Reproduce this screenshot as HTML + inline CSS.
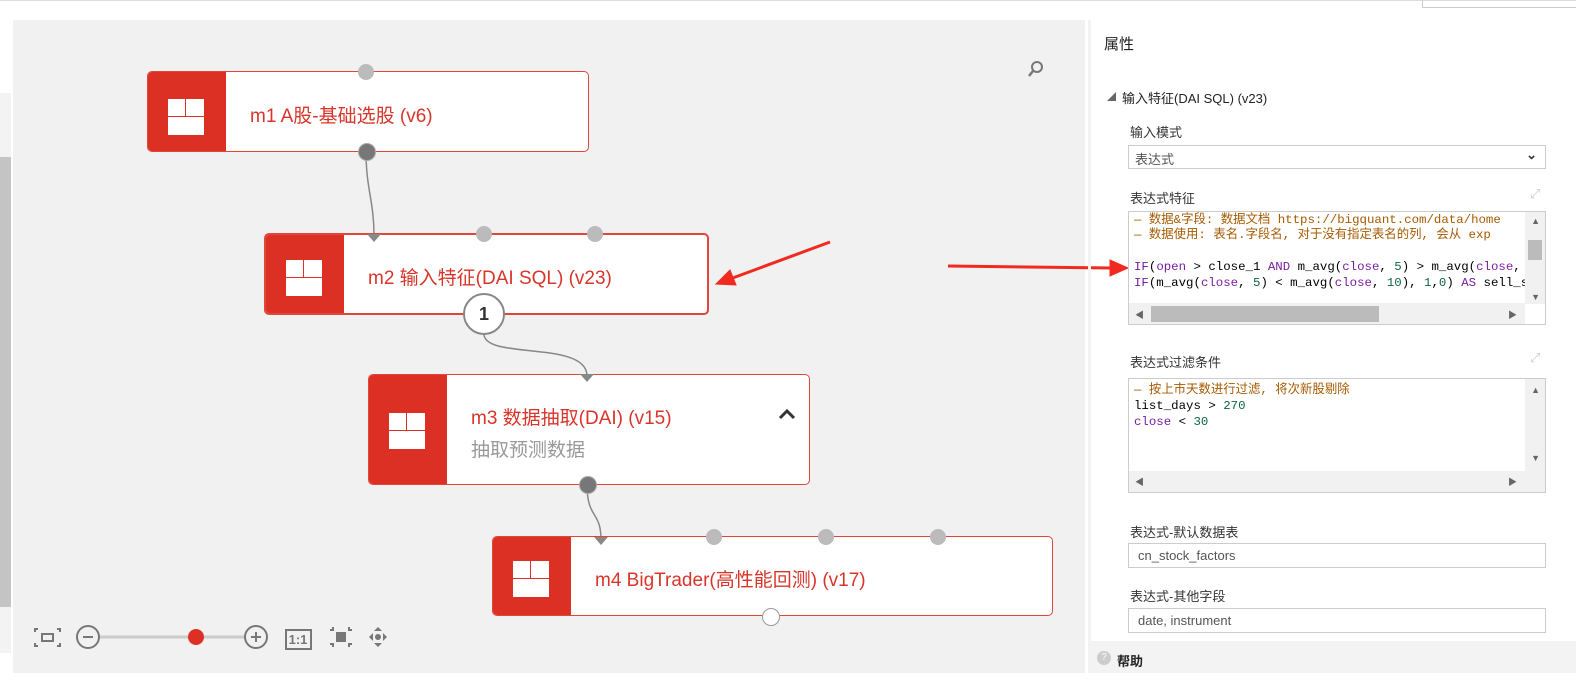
<!DOCTYPE html>
<html style="overflow:hidden"><head><meta charset="utf-8"><style>
html,body{margin:0;padding:0}
body{width:1576px;height:685px;position:relative;overflow:hidden;background:#fff;font-family:"Liberation Sans","Noto Sans CJK SC",sans-serif}
.a{position:absolute}
.canvas{left:13px;top:20px;width:1072px;height:653px;background:#f1f1f1}
.node{position:absolute;background:#fff;border:1px solid #e0463a;border-radius:5px;overflow:hidden;box-sizing:border-box}
.node .red{position:absolute;left:0;top:0;bottom:0;width:78px;background:#dd3024}
.icon{position:absolute;left:20px;width:36px;height:36px;background:#fff}
.icon:before{content:"";position:absolute;left:0;right:0;top:17px;height:1px;background:#dd3024}
.icon:after{content:"";position:absolute;left:17px;width:1px;top:0;height:17px;background:#dd3024}
.title{position:absolute;color:#d8352a;font-size:19px;white-space:nowrap}
.port{position:absolute;width:16px;height:16px;border-radius:50%;background:#bbb;margin:-8px 0 0 -8px}
.lbl{position:absolute;font-size:13px;color:#333}
.box{position:absolute;border:1px solid #ccc;box-sizing:border-box;background:#fff}
.code{font-family:"Liberation Mono","Noto Sans CJK SC",monospace;font-size:12.4px;line-height:16px;white-space:pre;position:absolute;left:5px}
.c{color:#a65a00}.k{color:#7a1fa2}.n{color:#116644}
.sa{position:absolute;font-size:9px;color:#666}
</style></head><body>
<div class="a" style="left:0;top:0;width:1576px;height:1px;background:#ddd"></div>
<div class="a" style="left:1422px;top:0;width:1px;height:7px;background:#ccc"></div>
<div class="a" style="left:1422px;top:7px;width:154px;height:1px;background:#ccc"></div>
<div class="a" style="left:0;top:93px;width:11px;height:560px;background:#f3f3f3"></div>
<div class="a" style="left:0;top:157px;width:11px;height:450px;background:#c4c4c4"></div>
<div class="a canvas"></div>
<svg class="a" style="left:0;top:0" width="1090" height="685">
<g fill="none" stroke="#888" stroke-width="1.5">
<path d="M366 151 C366 190 374 200 374 236"/>
<path d="M484 334 C484 360 587 340 587 376"/>
<path d="M587 484 C587 520 601 510 601 540"/>
</g>
<circle cx="1037" cy="67" r="5" fill="none" stroke="#777" stroke-width="2"/><line x1="1033" y1="71" x2="1029" y2="76" stroke="#777" stroke-width="2.5"/>
<g stroke="#777" stroke-width="2" fill="none">
<path d="M35 632v-3h3M57 629h3v3M35 643v3h3M57 646h3v-3"/><rect x="42" y="634" width="11" height="7"/>
<circle cx="88" cy="637" r="11"/><line x1="83" y1="637" x2="93" y2="637"/>
<circle cx="256" cy="637" r="11"/><line x1="251" y1="637" x2="261" y2="637"/><line x1="256" y1="632" x2="256" y2="642"/>
<rect x="286" y="630" width="25" height="19"/>
</g>
<line x1="100" y1="637" x2="244" y2="637" stroke="#ccc" stroke-width="3"/>
<circle cx="196" cy="637" r="8" fill="#dd3024"/>
<text x="298" y="644" font-size="13" text-anchor="middle" fill="#777" font-family="Liberation Sans" font-weight="bold">1:1</text>
<g fill="#777"><rect x="336" y="632" width="10" height="10"/><path d="M378 627l4 4h-8zM378 647l4-4h-8zM369 637l4-4v8zM387 637l-4-4v8z"/><circle cx="378" cy="637" r="3"/></g>
<g stroke="#777" stroke-width="2" fill="none"><path d="M333 627v3h-3M349 627v3h3M333 647v-3h-3M349 647v-3h3"/></g>
</svg>
<div class="node" style="left:147px;top:71px;width:442px;height:81px"><div class="red"><div class="icon" style="top:27px"></div></div><div class="title" style="left:102px;top:29px">m1 A股-基础选股 (v6)</div></div>
<div class="node" style="left:264px;top:233px;width:445px;height:82px;border:2px solid #e0463a"><div class="red"><div class="icon" style="top:25px"></div></div><div class="title" style="left:102px;top:28px">m2 输入特征(DAI SQL) (v23)</div></div>
<div class="node" style="left:368px;top:374px;width:442px;height:111px"><div class="red"><div class="icon" style="top:38px"></div></div><div class="title" style="left:102px;top:28px">m3 数据抽取(DAI) (v15)</div><div class="title" style="left:102px;top:60px;color:#999">抽取预测数据</div></div>
<div class="node" style="left:492px;top:536px;width:561px;height:80px"><div class="red"><div class="icon" style="top:24px"></div></div><div class="title" style="left:102px;top:28px">m4 BigTrader(高性能回测) (v17)</div></div>
<div class="port" style="left:366px;top:72px"></div>
<div class="port" style="left:366px;top:151px;background:#777;border:1px solid #aaa"></div>
<div class="port" style="left:484px;top:234px"></div><div class="port" style="left:595px;top:234px"></div>
<div class="a" style="left:463px;top:293px;width:38px;height:38px;border:2px solid #888;border-radius:50%;background:#fff;text-align:center;line-height:38px;font-weight:bold;font-size:18px;color:#333">1</div>
<div class="port" style="left:587px;top:484px;background:#777;border:1px solid #aaa"></div>
<div class="port" style="left:714px;top:537px"></div><div class="port" style="left:826px;top:537px"></div><div class="port" style="left:938px;top:537px"></div>
<div class="port" style="left:770px;top:616px;background:#fff;border:1px solid #999"></div>
<svg class="a" style="left:0;top:0" width="1576" height="685">
<g fill="#888"><path d="M367 234h14l-7 8z"/><path d="M580 374h14l-7 8z"/><path d="M594 537h14l-7 8z"/></g>
<path d="M780 418l7-7 7 7" fill="none" stroke="#333" stroke-width="3"/>
<g stroke="#f02a1e" stroke-width="3" fill="#f02a1e">
<line x1="830" y1="242" x2="730" y2="279"/><path d="M716 284l14-14 6 15z" stroke-width="1"/>
<line x1="948" y1="266" x2="1112" y2="268"/><path d="M1128 268l-18-8v16z" stroke-width="1"/>
</g>
</svg>

<div class="a" style="left:1088px;top:20px;width:3px;height:653px;background:#f3f3f3"></div>
<div class="lbl" style="left:1104px;top:33px;font-size:15px;color:#222">属性</div>
<div class="lbl" style="left:1107px;top:90px;font-size:9px;color:#666">◢</div>
<div class="lbl" style="left:1122px;top:88px;color:#222">输入特征(DAI SQL) (v23)</div>
<div class="lbl" style="left:1130px;top:122px">输入模式</div>
<div class="box" style="left:1128px;top:145px;width:418px;height:24px"><span class="lbl" style="left:6px;top:3px;color:#555">表达式</span><span class="lbl" style="right:8px;top:1px;font-weight:bold">&#8964;</span></div>
<div class="lbl" style="left:1130px;top:188px">表达式特征</div>
<div class="lbl" style="left:1530px;top:186px;color:#ccc">⤢</div>
<div class="box" style="left:1128px;top:211px;width:418px;height:114px;overflow:hidden">
<div class="code c" style="top:0">— 数据&amp;字段: 数据文档 https://bigquant.com/data/home</div>
<div class="code c" style="top:15px">— 数据使用: 表名.字段名, 对于没有指定表名的列, 会从 exp</div>
<div class="code" style="top:47px"><span class="k">IF</span>(<span class="k">open</span> &gt; close_1 <span class="k">AND</span> m_avg(<span class="k">close</span>, <span class="n">5</span>) &gt; m_avg(<span class="k">close</span>, <span class="n">10</span>)</div>
<div class="code" style="top:63px"><span class="k">IF</span>(m_avg(<span class="k">close</span>, <span class="n">5</span>) &lt; m_avg(<span class="k">close</span>, <span class="n">10</span>), <span class="n">1</span>,<span class="n">0</span>) <span class="k">AS</span> sell_sign</div>
<div class="a" style="right:0;top:0;width:20px;height:92px;background:#f1f1f1"></div>
<div class="a" style="right:3px;top:28px;width:14px;height:20px;background:#bbb"></div>
<div class="sa" style="right:5px;top:4px">▲</div><div class="sa" style="right:5px;top:80px">▼</div>
<div class="a" style="left:0;right:20px;top:91px;height:21px;background:#f1f1f1"></div>
<div class="a" style="left:22px;top:94px;width:228px;height:16px;background:#bbb"></div>
<div class="sa" style="left:6px;top:96px">◀</div><div class="sa" style="right:28px;top:96px">▶</div>
</div>
<div class="lbl" style="left:1130px;top:352px">表达式过滤条件</div>
<div class="lbl" style="left:1530px;top:350px;color:#ccc">⤢</div>
<div class="box" style="left:1128px;top:378px;width:418px;height:115px;overflow:hidden">
<div class="code c" style="top:3px">— 按上市天数进行过滤, 将次新股剔除</div>
<div class="code" style="top:19px">list_days &gt; <span class="n">270</span></div>
<div class="code" style="top:35px"><span class="k">close</span> &lt; <span class="n">30</span></div>
<div class="a" style="right:0;top:0;width:20px;height:113px;background:#f1f1f1"></div>
<div class="a" style="left:0;right:0;top:92px;height:21px;background:#f1f1f1"></div>
<div class="sa" style="right:5px;top:6px">▲</div><div class="sa" style="right:5px;top:74px">▼</div>
<div class="sa" style="left:6px;top:96px">◀</div><div class="sa" style="right:28px;top:96px">▶</div>
</div>
<div class="lbl" style="left:1130px;top:522px">表达式-默认数据表</div>
<div class="box" style="left:1128px;top:543px;width:418px;height:25px"><span class="lbl" style="left:9px;top:4px;color:#555">cn_stock_factors</span></div>
<div class="lbl" style="left:1130px;top:586px">表达式-其他字段</div>
<div class="box" style="left:1128px;top:608px;width:418px;height:25px"><span class="lbl" style="left:9px;top:4px;color:#555">date, instrument</span></div>
<div class="a" style="left:1088px;top:641px;width:488px;height:32px;background:#f3f3f3"></div>
<div class="a" style="left:1097px;top:651px;width:14px;height:14px;border-radius:50%;background:#ccc;color:#fff;font-size:10px;text-align:center;line-height:14px">?</div>
<div class="lbl" style="left:1117px;top:651px;font-weight:bold;color:#222">帮助</div>
</body></html>
